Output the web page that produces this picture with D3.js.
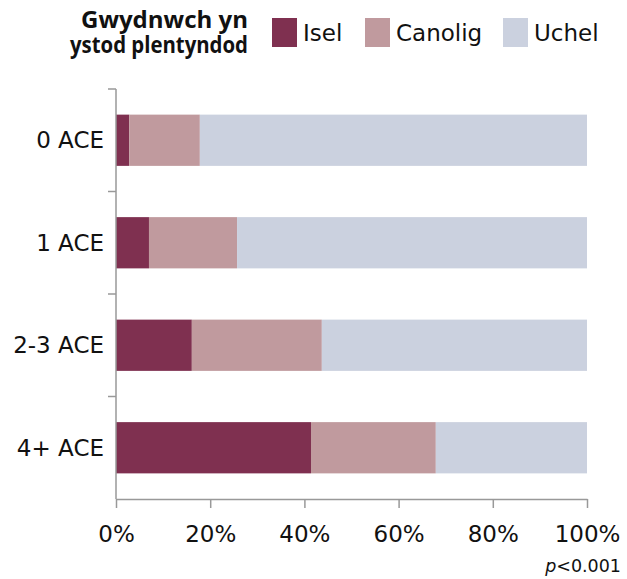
<!DOCTYPE html>
<html><head><meta charset="utf-8">
<script src="https://cdn.jsdelivr.net/npm/d3@7"></script>
<style>body{margin:0;background:#fff}</style>
</head><body>
<svg id="chart" width="627" height="579"></svg>
<script>
const categories = ["0 ACE", "1 ACE", "2-3 ACE", "4+ ACE"];
const seriesNames = ["Isel", "Canolig", "Uchel"];
const isel = [2.8, 7.0, 16.1, 41.4];
const canolig = [15.0, 18.7, 27.6, 26.5];
const uchel = [82.2, 74.3, 56.3, 32.1];
const colors = ["#7f3050", "#c09a9e", "#cbd1df"];
const xTicks = [0, 20, 40, 60, 80, 100];
const legendTitle = ["Gwydnwch yn", "ystod plentyndod"];
const note = "<0.001";

const font = "'DejaVu Sans', sans-serif";
const boldFont = "'Open Sans', 'Noto Sans', sans-serif";
const svg = d3.select("#chart");
const x = d3.scaleLinear().domain([0, 100]).range([116, 587]);
const y = d3.scaleBand().domain(categories).range([89, 499]).paddingInner(0.5).paddingOuter(0.25);

const data = categories.map((c, i) => ({cat: c, Isel: isel[i], Canolig: canolig[i], Uchel: uchel[i]}));
const stacked = d3.stack().keys(seriesNames)(data);

svg.append("g").selectAll("g").data(stacked).join("g")
  .attr("fill", (d, i) => colors[i])
  .selectAll("rect").data(d => d).join("rect")
  .attr("x", d => x(d[0]))
  .attr("width", d => x(d[1]) - x(d[0]))
  .attr("y", d => y(d.data.cat))
  .attr("height", y.bandwidth());

// y axis line & ticks at band boundaries
const axisColor = "#999";
svg.append("line").attr("x1", 116).attr("x2", 116).attr("y1", 89).attr("y2", 499)
  .attr("stroke", axisColor).attr("stroke-width", 1.5);
const step = y.step();
const bounds = categories.map(c => y(c) - step * 0.25);
svg.append("g").selectAll("line").data(bounds).join("line")
  .attr("x1", 108).attr("x2", 116).attr("y1", d => d).attr("y2", d => d)
  .attr("stroke", axisColor).attr("stroke-width", 1.5);

svg.append("g").selectAll("text").data(categories).join("text")
  .attr("x", 104).attr("y", d => y(d) + y.bandwidth() / 2)
  .attr("dy", "0.35em").attr("text-anchor", "end")
  .attr("font-family", font).attr("font-size", 23).attr("fill", "#111")
  .text(d => d);

// x axis
const xAxis = svg.append("g").attr("transform", "translate(0,499)")
  .call(d3.axisBottom(x).tickValues(xTicks).tickFormat(d => d + "%").tickSize(9).tickSizeOuter(0));
xAxis.select(".domain").attr("stroke", axisColor).attr("stroke-width", 1.5);
xAxis.selectAll(".tick line").attr("stroke", axisColor).attr("stroke-width", 1.5);
xAxis.selectAll(".tick text").attr("font-family", font).attr("font-size", 23).attr("fill", "#111")
  .attr("y", 43).attr("dy", 0);

// p-value note
const pt = svg.append("text").attr("x", 621).attr("y", 572).attr("text-anchor", "end")
  .attr("font-family", font).attr("font-size", 17.5).attr("fill", "#111");
pt.append("tspan").attr("font-style", "italic").text("p");
pt.append("tspan").text(note);

// legend
const titleWidths = [167, 178];
svg.append("g").selectAll("text").data(legendTitle).join("text")
  .attr("x", 248).attr("y", (d, i) => 28 + i * 25)
  .attr("text-anchor", "end").attr("font-family", boldFont).attr("font-weight", "bold")
  .attr("textLength", (d, i) => titleWidths[i]).attr("lengthAdjust", "spacingAndGlyphs")
  .attr("font-size", 24).attr("fill", "#111").text(d => d);
const legX = [272, 365, 503];
const lg = svg.append("g").selectAll("g").data(seriesNames).join("g")
  .attr("transform", (d, i) => `translate(${legX[i]},18)`);
lg.append("rect").attr("width", 25).attr("height", 29).attr("fill", (d, i) => colors[i]);
lg.append("text").attr("x", 31).attr("y", 15).attr("dy", "0.35em")
  .attr("font-family", font).attr("font-size", 23).attr("fill", "#111").text(d => d);
</script>
</body></html>
